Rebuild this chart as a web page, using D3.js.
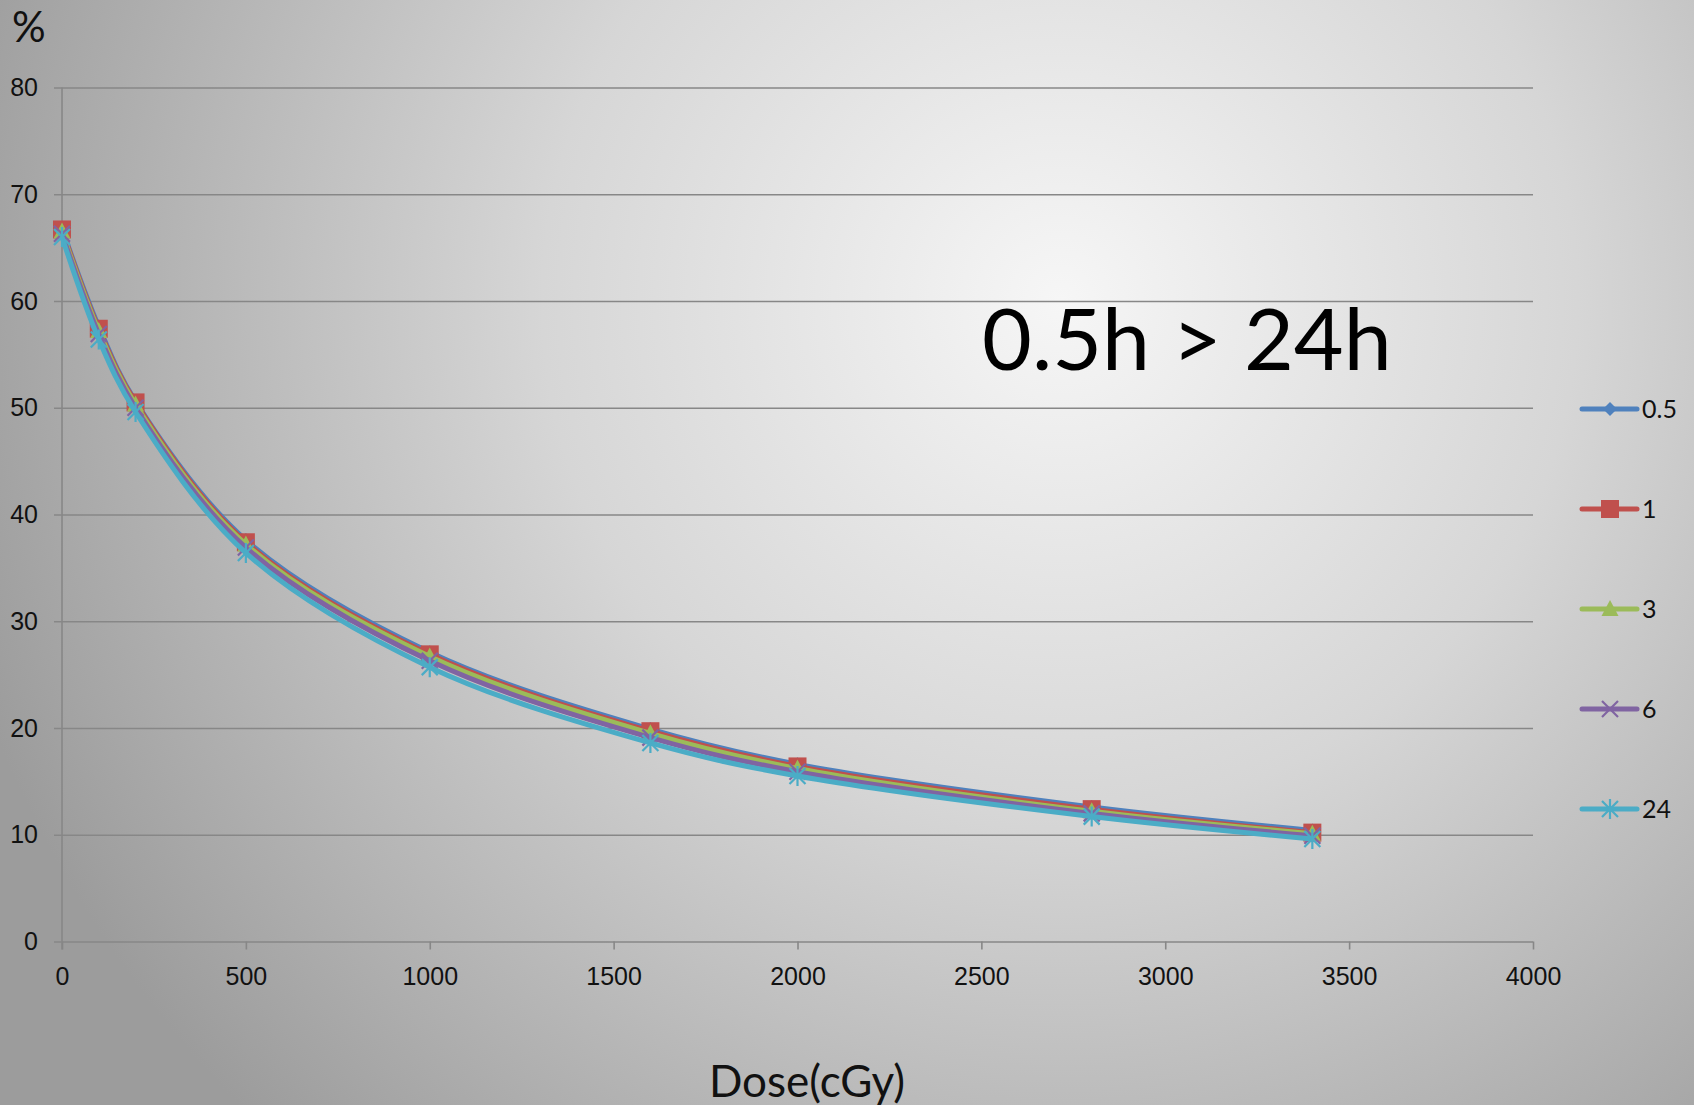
<!DOCTYPE html>
<meta charset="utf-8">
<title>Dose response</title>
<style>
  body { margin: 0; overflow: hidden; }
  svg { display: block; font-family: Lato, "Open Sans", sans-serif; }
  .grid line { stroke: #878787; stroke-width: 1.6px; }
  .tick text { fill: #111; }
</style>
<body>
<script src="https://d3js.org/d3.v7.min.js"></script>
<script>

// dose in cGy, survival in %
var dose = [0, 100, 200, 500, 1000, 1600, 2000, 2800, 3400];
var s05 = [66.8, 57.6, 50.6, 37.6, 27.1, 19.9, 16.6, 12.6, 10.4];
var s1  = [66.7, 57.4, 50.5, 37.4, 26.9, 19.7, 16.4, 12.4, 10.2];
var s3  = [66.5, 57.2, 50.3, 37.2, 26.7, 19.5, 16.2, 12.2, 10.1];
var s6  = [66.3, 56.9, 50.0, 36.9, 26.3, 19.1, 15.9, 12.0, 9.9];
var s24 = [66.0, 56.4, 49.6, 36.4, 25.7, 18.6, 15.5, 11.7, 9.6];
var seriesNames = ["0.5", "1", "3", "6", "24"];
var xTicks = [0, 500, 1000, 1500, 2000, 2500, 3000, 3500, 4000];
var yTicks = [0, 10, 20, 30, 40, 50, 60, 70, 80];

var width = 1694,
  height = 1105;

var series = [
  { name: seriesNames[0], values: s05, color: "#4f81bd", marker: "diamond" },
  { name: seriesNames[1], values: s1,  color: "#c0504d", marker: "square" },
  { name: seriesNames[2], values: s3,  color: "#9bbb59", marker: "triangle" },
  { name: seriesNames[3], values: s6,  color: "#8064a2", marker: "x" },
  { name: seriesNames[4], values: s24, color: "#4bacc6", marker: "star" }
];

var svg = d3.select("body").append("svg")
    .attr("width", width)
    .attr("height", height);

// background glow
var grad = svg.append("defs").append("radialGradient")
    .attr("id", "bg")
    .attr("gradientUnits", "userSpaceOnUse")
    .attr("cx", 1060).attr("cy", 300).attr("r", 1150);
grad.append("stop").attr("offset", 0).attr("stop-color", "#f6f6f6");
grad.append("stop").attr("offset", 0.45).attr("stop-color", "#d6d6d6");
grad.append("stop").attr("offset", 1).attr("stop-color", "#9c9c9c");

svg.append("rect")
    .attr("width", width)
    .attr("height", height)
    .attr("fill", "url(#bg)");

var x = d3.scaleLinear().domain([0, 4000]).range([62, 1533]);
var y = d3.scaleLinear().domain([0, 80]).range([941.5, 87.5]);

// horizontal gridlines + y labels
var yAxis = svg.append("g")
    .attr("class", "grid")
    .attr("transform", "translate(" + x(0) + ",0)")
    .call(d3.axisLeft(y).tickValues(yTicks).tickFormat(d3.format("d")).tickSize(8).tickPadding(16));
yAxis.select(".domain").remove();
yAxis.selectAll(".tick line").attr("x1", -8).attr("x2", x(4000) - x(0));
yAxis.selectAll(".tick text").style("font-size", "25px");

// x axis
var xAxis = svg.append("g")
    .attr("class", "grid")
    .attr("transform", "translate(0," + y(0) + ")")
    .call(d3.axisBottom(x).tickValues(xTicks).tickFormat(d3.format("d")).tickSize(8).tickPadding(18));
xAxis.select(".domain").remove();
xAxis.selectAll(".tick text").style("font-size", "25px");

// vertical axis line
svg.append("line")
    .attr("x1", x(0)).attr("x2", x(0))
    .attr("y1", y(80)).attr("y2", y(0) + 8)
    .attr("stroke", "#878787").attr("stroke-width", 1.6);

var markerPath = function(type) {
  switch (type) {
    case "diamond": return "M0,-7L7,0L0,7L-7,0Z";
    case "square": return "M-9,-9H9V9H-9Z";
    case "triangle": return "M0,-9L8.5,7L-8.5,7Z";
    case "x": return "M-8,-8L8,8M-8,8L8,-8";
    case "star": return "M-8,-8L8,8M-8,8L8,-8M0,-10V10";
  }
};
var filled = function(type) { return type == "diamond" || type == "square" || type == "triangle"; };

var line = d3.line()
    .x(function(d, i) { return x(dose[i]); })
    .y(function(d) { return y(d); })
    .curve(d3.curveCatmullRom.alpha(0.5));

series.forEach(function(s) {
  var g = svg.append("g");
  g.append("path")
      .attr("d", line(s.values))
      .attr("fill", "none")
      .attr("stroke", s.color)
      .attr("stroke-width", 5)
      .attr("stroke-linejoin", "round");
  g.selectAll("path.m")
      .data(s.values)
    .enter().append("path")
      .attr("class", "m")
      .attr("transform", function(d, i) { return "translate(" + x(dose[i]) + "," + y(d) + ")"; })
      .attr("d", markerPath(s.marker))
      .attr("fill", filled(s.marker) ? s.color : "none")
      .attr("stroke", s.color)
      .attr("stroke-width", filled(s.marker) ? 0 : 2.2);
});

// legend
var legend = svg.selectAll("g.legend")
    .data(series)
  .enter().append("g")
    .attr("class", "legend")
    .attr("transform", function(d, i) { return "translate(1582," + (409 + i * 100) + ")"; });
legend.append("line")
    .attr("x1", 0).attr("x2", 55)
    .attr("stroke", function(d) { return d.color; })
    .attr("stroke-width", 5)
    .attr("stroke-linecap", "round");
legend.append("path")
    .attr("transform", "translate(28,0)")
    .attr("d", function(d) { return markerPath(d.marker); })
    .attr("fill", function(d) { return filled(d.marker) ? d.color : "none"; })
    .attr("stroke", function(d) { return d.color; })
    .attr("stroke-width", function(d) { return filled(d.marker) ? 0 : 2.2; });
legend.append("text")
    .attr("x", 60)
    .attr("dy", "0.35em")
    .style("font-size", "25px")
    .attr("fill", "#111")
    .text(function(d) { return d.name; });

// titles
svg.append("text")
    .attr("x", 12).attr("y", 42)
    .style("font-size", "42px")
    .attr("fill", "#111")
    .text("%");

svg.append("text")
    .attr("x", 982).attr("y", 370)
    .style("font-size", "86px")
    .attr("fill", "#000")
    .text("0.5h > 24h");

svg.append("text")
    .attr("x", 807).attr("y", 1097)
    .attr("text-anchor", "middle")
    .style("font-size", "44px")
    .attr("fill", "#111")
    .text("Dose(cGy)");

</script>
